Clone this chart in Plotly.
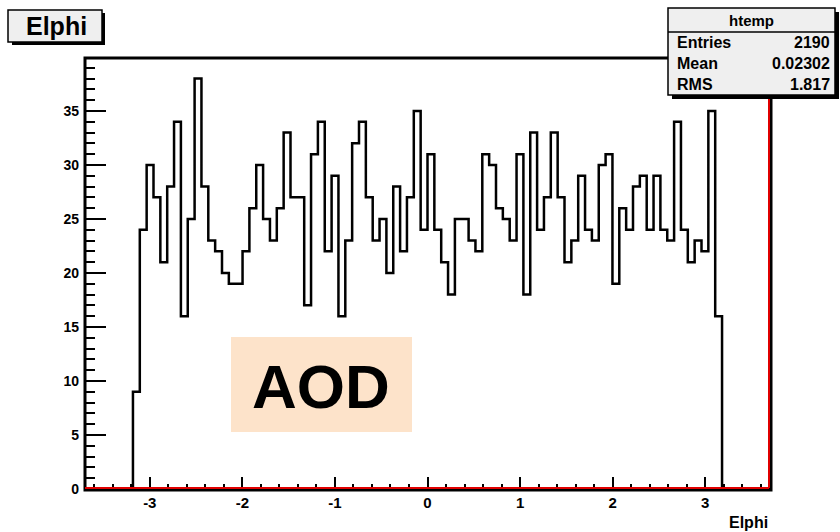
import numpy as np
import plotly.graph_objects as go

# ---- histogram definition (htemp: 100 bins over [-3.7, 3.7]) ----
n_bins = 100
x_low, x_high = -3.7, 3.7
first_filled_bin = 7
filled_counts = [
    9, 24, 30, 27, 21, 28, 34, 16, 25, 38, 28, 23, 22, 20, 19, 19, 22, 26,
    30, 25, 23, 26, 33, 27, 27, 17, 31, 34, 22, 29, 16, 23, 32, 34, 27, 23,
    25, 20, 28, 22, 27, 35, 24,
    31, 24, 21, 18, 25, 25, 23, 22, 31, 30, 26, 25, 23, 31, 18, 33, 24, 27,
    33, 27, 21, 23, 29, 24, 23,
    30, 31, 19, 26, 24, 28, 29, 24, 29, 24, 23, 34, 24, 21, 23, 22, 35, 16,
]
x_tick_values = [-3, -2, -1, 0, 1, 2, 3]
x_tick_labels = ["-3", "-2", "-1", "0", "1", "2", "3"]
y_tick_values = [0, 5, 10, 15, 20, 25, 30, 35]
y_tick_labels = ["0", "5", "10", "15", "20", "25", "30", "35"]
y_max = 39.9

stats_title = "htemp"
stats_labels = ["Entries", "Mean", "RMS"]
stats_values = ["2190", "0.02302", "1.817"]

hist_title = "Elphi"
axis_title = "Elphi"
badge_text = "AOD"

# ---- build the stepped outline ----
counts = np.zeros(n_bins)
counts[first_filled_bin:first_filled_bin + len(filled_counts)] = filled_counts
edges = np.linspace(x_low, x_high, n_bins + 1)
step_x = edges
step_y = np.append(counts, 0.0)

W, H = 840, 540
REF_H = 532  # layout grid used for positioning the boxes and labels
FONT = "Liberation Sans, Arial, Helvetica, sans-serif"


def px(x):
    return x / W


def py(y):
    return 1 - y / REF_H


frame_l, frame_r, frame_t, frame_b = 85, 770, 58, 489

fig = go.Figure()
fig.add_trace(go.Scatter(
    x=step_x, y=step_y, mode="lines",
    line=dict(shape="hv", color="black", width=2.5),
    hoverinfo="skip",
))

fig.update_layout(
    width=W, height=H,
    margin=dict(l=0, r=0, t=0, b=0),
    paper_bgcolor="white", plot_bgcolor="white",
    showlegend=False,
    font=dict(family=FONT, color="black"),
    xaxis=dict(
        domain=[px(frame_l), px(frame_r)],
        range=[x_low, x_high],
        tickmode="array", tickvals=x_tick_values, ticktext=x_tick_labels,
        ticks="inside", ticklen=12, tickwidth=2, tickcolor="black",
        ticklabelstandoff=3,
        showgrid=False, zeroline=False, showline=False,
        tickfont=dict(size=15, weight="bold", family=FONT),
        minor=dict(tickmode="linear", tick0=0, dtick=0.2, ticks="inside",
                   ticklen=5, tickwidth=2, tickcolor="black", showgrid=False),
    ),
    yaxis=dict(
        domain=[py(frame_b), py(frame_t)],
        range=[0, y_max],
        tickmode="array", tickvals=y_tick_values, ticktext=y_tick_labels,
        ticks="inside", ticklen=21, tickwidth=2, tickcolor="black",
        ticklabelstandoff=5,
        showgrid=False, zeroline=False, showline=False,
        tickfont=dict(size=14, weight="bold", family=FONT),
        minor=dict(tickmode="linear", tick0=0, dtick=1, ticks="inside",
                   ticklen=10, tickwidth=2, tickcolor="black", showgrid=False),
    ),
)

shapes = []
# frame
shapes.append(dict(type="rect", xref="paper", yref="paper",
                   x0=px(frame_l), x1=px(frame_r + 1), y0=py(frame_b + 1), y1=py(frame_t),
                   line=dict(color="black", width=3), layer="above"))
shapes.append(dict(type="line", xref="paper", yref="paper",
                   x0=px(frame_l), x1=px(frame_r - 1), y0=py(frame_b - 1), y1=py(frame_b - 1),
                   line=dict(color="#e00000", width=2), layer="above"))
shapes.append(dict(type="line", xref="paper", yref="paper",
                   x0=px(frame_r - 1), x1=px(frame_r - 1), y0=py(frame_b - 1), y1=py(frame_t + 40),
                   line=dict(color="#e00000", width=2), layer="above"))

# title box with shadow
shapes.append(dict(type="rect", xref="paper", yref="paper",
                   x0=px(12), x1=px(105), y0=py(45), y1=py(13),
                   fillcolor="black", line=dict(width=0)))
shapes.append(dict(type="rect", xref="paper", yref="paper",
                   x0=px(8), x1=px(102), y0=py(42), y1=py(10),
                   fillcolor="#efefef", line=dict(color="black", width=1.5)))

# stats box with shadow
shapes.append(dict(type="rect", xref="paper", yref="paper",
                   x0=px(672), x1=px(839), y0=py(99), y1=py(12),
                   fillcolor="black", line=dict(width=0), layer="above"))
shapes.append(dict(type="rect", xref="paper", yref="paper",
                   x0=px(668), x1=px(835), y0=py(95), y1=py(8),
                   fillcolor="#efefef", line=dict(color="black", width=1.5), layer="above"))
shapes.append(dict(type="line", xref="paper", yref="paper",
                   x0=px(668), x1=px(835), y0=py(32), y1=py(32),
                   line=dict(color="black", width=1.5), layer="above"))

# AOD badge
shapes.append(dict(type="rect", xref="paper", yref="paper",
                   x0=px(231), x1=px(412), y0=py(432), y1=py(337),
                   fillcolor="#fde3ca", line=dict(width=0), layer="below"))

fig.update_layout(shapes=shapes)

ann = []


def text(x, y, s, size, xanchor="center"):
    ann.append(dict(xref="paper", yref="paper", x=px(x), y=py(y), text=s,
                    showarrow=False, xanchor=xanchor, yanchor="middle",
                    font=dict(size=size, family=FONT, color="black", weight="bold")))


text(56, 26, hist_title, 25)
text(751, 20, stats_title, 15)
for i, (lab, val) in enumerate(zip(stats_labels, stats_values)):
    yy = 42 + 21 * i
    text(675, yy, lab, 16, "left")
    text(832, yy, val, 16, "right")
text(770, 522, axis_title, 16, "right")
text(321, 387, badge_text, 62)

fig.update_layout(annotations=ann)

fig.write_html("out.html")
